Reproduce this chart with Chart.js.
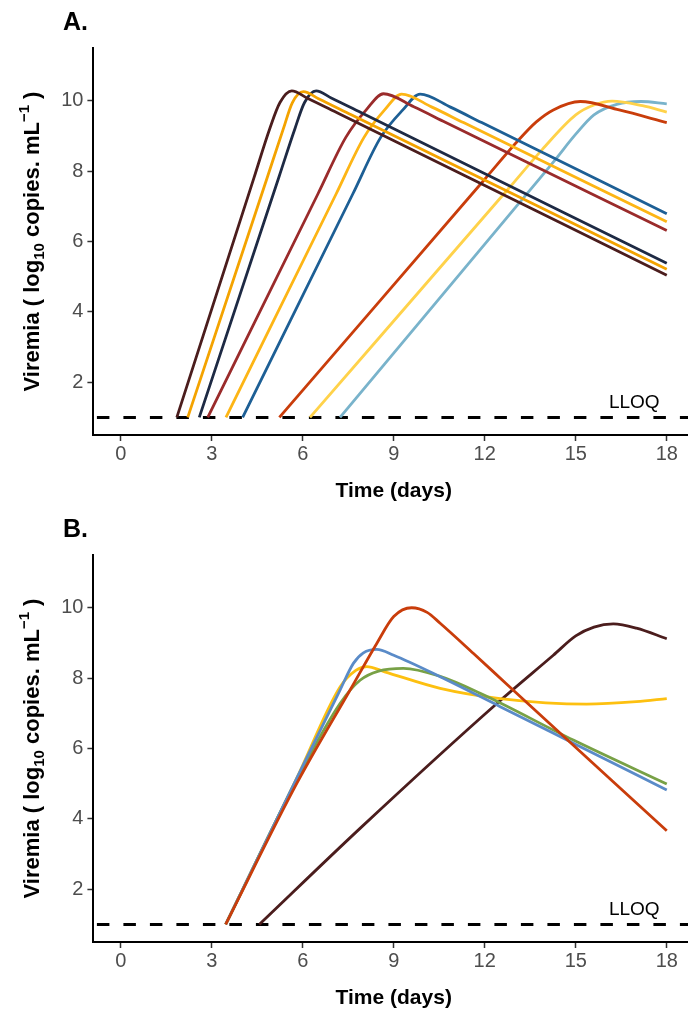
<!DOCTYPE html>
<html>
<head>
<meta charset="utf-8">
<script src="https://cdn.jsdelivr.net/npm/chart.js@4/dist/chart.umd.min.js"></script>
<style>
html, body { margin: 0; padding: 0; background: #fff; }
canvas { display: block; }
</style>
</head>
<body>
<canvas id="chartA" width="688" height="507"></canvas>
<canvas id="chartB" width="688" height="505"></canvas>
<script>
// axes
const xTicks = [0, 3, 6, 9, 12, 15, 18]
const yTicks = [2, 4, 6, 8, 10]
const xMin = -0.9, xMax = 18.7
const yMin = 0.5, yMax = 11.5
const lloq = 1

// panel A, [time, viremia]
const a1 = [[1.85, 1], [4.4, 7.83], [4.91, 9.2], [5.25, 9.95], [5.64, 10.28], [6.14, 10.08], [7.2, 9.63], [18, 5.04]]
const a2 = [[2.21, 1], [4.85, 7.87], [5.36, 9.2], [5.66, 9.95], [6.02, 10.26], [6.52, 10.06], [7.6, 9.6], [18, 5.21]]
const a3 = [[2.59, 1], [5.23, 7.87], [5.74, 9.2], [6.06, 9.95], [6.44, 10.28], [6.94, 10.08], [8.0, 9.63], [18, 5.38]]
const a4 = [[2.87, 1], [6.5, 7.35], [7.42, 8.96], [8.1, 9.75], [8.66, 10.2], [9.66, 9.83], [10.7, 9.39], [18, 6.31]]
const a5 = [[3.47, 1], [7.1, 7.35], [8.02, 8.96], [8.7, 9.74], [9.26, 10.19], [10.26, 9.82], [11.3, 9.38], [18, 6.56]]
const a6 = [[4.02, 1], [7.65, 7.35], [8.57, 8.96], [9.3, 9.74], [9.87, 10.19], [10.87, 9.82], [11.9, 9.38], [18, 6.79]]
const a7 = [[5.23, 1], [12.0, 7.77], [13.1, 8.87], [13.7, 9.4], [14.26, 9.74], [15.15, 9.98], [16.43, 9.74], [18, 9.38]]
const a8 = [[6.24, 1], [12.8, 7.52], [13.9, 8.62], [15.0, 9.6], [15.6, 9.88], [16.2, 9.99], [17.2, 9.86], [18, 9.68]]
const a9 = [[7.23, 1], [13.2, 7.16], [14.3, 8.3], [15.0, 9.05], [15.6, 9.6], [16.35, 9.9], [17.15, 9.98], [18, 9.91]]
const colorsA = ["#4b1d1d", "#f4a300", "#1e2a44", "#9a2b2b", "#fdb515", "#1d5f95", "#c93d0b", "#ffd24a", "#79b3cb"]

// panel B
const bRed = [[3.46, 1], [5.8, 5.0], [7.6, 7.72], [8.45, 9.0], [9.0, 9.75], [9.59, 10.0], [10.1, 9.87], [10.53, 9.56], [11.63, 8.7], [12.7, 7.85], [18, 3.66]]
const bBlue = [[3.46, 1], [5.8, 5.15], [7.23, 7.66], [7.67, 8.42], [8.0, 8.72], [8.44, 8.82], [9.0, 8.65], [10.53, 8.04], [12.51, 7.19], [14.92, 6.15], [18, 4.82]]
const bGreen = [[3.46, 1], [5.8, 5.1], [7.23, 7.28], [7.89, 7.94], [8.5, 8.2], [9.32, 8.28], [10.53, 8.05], [11.85, 7.57], [14.92, 6.24], [18, 4.99]]
const bYellow = [[3.46, 1], [5.8, 5.15], [7.23, 7.75], [7.75, 8.22], [8.11, 8.33], [8.7, 8.18], [10.53, 7.71], [12.51, 7.42], [15.36, 7.26], [17.0, 7.33], [18, 7.42]]
const bBrown = [[4.57, 1], [7.89, 3.73], [12.4, 7.28], [14.26, 8.65], [15.0, 9.2], [15.6, 9.45], [16.24, 9.54], [17.0, 9.42], [18, 9.12]]
const colorsB = ["#c93d0b", "#5a8bc8", "#78a146", "#fdc010", "#4b1d1d"]

const yTitle = [["Viremia ( log", 0], ["10", 1], [" copies. mL", 0], ["\u22121", -1], [" )", 0]]
const xTitle = "Time (days)"

const FONT = '"Liberation Sans", Arial, sans-serif'

const textPlugin = {
    id: "panelText",
    afterDatasetsDraw(chart, args, opts) {
        const ctx = chart.ctx
        const area = chart.chartArea
        const xs = chart.scales.x, ys = chart.scales.y
        ctx.save()
        ctx.fillStyle = "#000"
        ctx.textBaseline = "alphabetic"

        ctx.font = "19px " + FONT
        ctx.textAlign = "center"
        ctx.fillText("LLOQ", xs.getPixelForValue(16.93), ys.getPixelForValue(lloq) - 9)

        ctx.font = "bold 25px " + FONT
        ctx.textAlign = "left"
        ctx.fillText(opts.tag, 63, 30)

        ctx.font = "bold 21px " + FONT
        ctx.textAlign = "center"
        ctx.fillText(xTitle, xs.getPixelForValue(9), 497)

        // rotated y title with sub/superscripts
        ctx.translate(39, (area.top + area.bottom) / 2)
        ctx.rotate(-Math.PI / 2)
        ctx.textAlign = "left"
        const fontFor = s => s ? "bold 15px " + FONT : "bold 22px " + FONT
        let total = 0
        yTitle.forEach(p => { ctx.font = fontFor(p[1]); total += ctx.measureText(p[0]).width })
        let x = -total / 2
        yTitle.forEach(p => {
            ctx.font = fontFor(p[1])
            const shift = p[1] > 0 ? 5 : p[1] < 0 ? -10 : 0
            ctx.fillText(p[0], x, shift)
            x += ctx.measureText(p[0]).width
        })
        ctx.restore()
    }
}

function makeChart(id, tag, series, colors) {
    const canvas = document.getElementById(id)
    const H = canvas.height

    const datasets = series.map((s, i) => ({
        data: s.map(p => ({ x: p[0], y: p[1] })),
        borderColor: colors[i],
        borderWidth: 2.8,
        pointRadius: 0,
        fill: false,
        cubicInterpolationMode: "monotone"
    }))
    datasets.push({
        data: [{ x: xMin, y: lloq }, { x: xMax, y: lloq }],
        borderColor: "#000",
        borderWidth: 3,
        borderDash: [12.5, 14],
        borderDashOffset: 23,
        pointRadius: 0,
        fill: false
    })

    new Chart(canvas, {
        type: "line",
        data: { datasets },
        plugins: [textPlugin],
        options: {
            responsive: false,
            animation: false,
            devicePixelRatio: 1,
            layout: { padding: { top: 48, left: 0, right: 0, bottom: 0 } },
            plugins: {
                legend: { display: false },
                tooltip: { enabled: false },
                panelText: { tag }
            },
            scales: {
                x: {
                    type: "linear",
                    min: xMin,
                    max: xMax,
                    afterBuildTicks: s => { s.ticks = xTicks.map(v => ({ value: v })) },
                    afterFit: s => { s.height = H - 435; s.paddingLeft = 0; s.paddingRight = 0 },
                    ticks: { color: "#4d4d4d", font: { size: 20, family: FONT }, padding: 1, maxRotation: 0, autoSkip: false },
                    grid: { drawOnChartArea: false, drawTicks: true, tickLength: 6, tickColor: "#333", tickWidth: 1.5 },
                    border: { display: true, color: "#000", width: 2 }
                },
                y: {
                    type: "linear",
                    min: yMin,
                    max: yMax,
                    afterBuildTicks: s => { s.ticks = yTicks.map(v => ({ value: v })) },
                    afterFit: s => { s.width = 93.4; s.paddingTop = 0; s.paddingBottom = 0 },
                    ticks: { color: "#4d4d4d", font: { size: 20, family: FONT }, padding: 4 },
                    grid: { drawOnChartArea: false, drawTicks: true, tickLength: 6, tickColor: "#333", tickWidth: 1.5 },
                    border: { display: true, color: "#000", width: 2 }
                }
            }
        }
    })
}

makeChart("chartA", "A.", [a1, a2, a3, a4, a5, a6, a7, a8, a9], colorsA)
makeChart("chartB", "B.", [bRed, bBlue, bGreen, bYellow, bBrown], colorsB)
</script>
</body>
</html>
